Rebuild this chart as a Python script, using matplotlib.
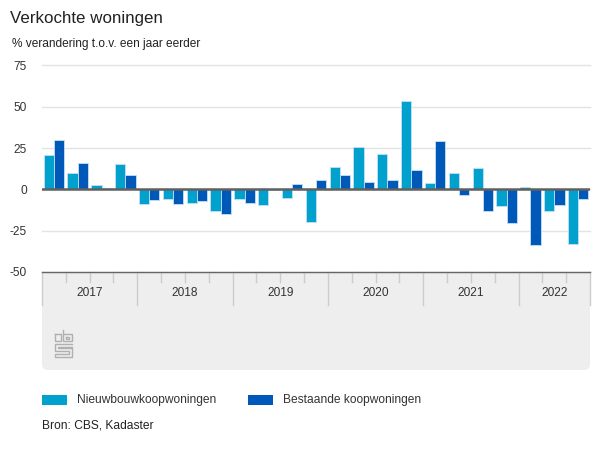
import matplotlib
matplotlib.use("Agg")
import matplotlib.pyplot as plt
import numpy as np
from matplotlib.patches import FancyBboxPatch, Rectangle

plt.rcParams['font.family'] = ['Liberation Sans', 'DejaVu Sans']
plt.rcParams['axes.unicode_minus'] = False

years = ['2017', '2018', '2019', '2020', '2021', '2022']
quarters_per_year = [4, 4, 4, 4, 4, 3]
nieuwbouw = [21, 9.7, 2.4, 15.3, -9, -6, -8.5, -13.3, -6, -9.7, -5, -20,
             13.5, 25.6, 21.4, 53.4, 3.8, 9.9, 12.9, -10.3, 1.4, -13.3, -33]
bestaand = [30, 16, 0.7, 8.7, -6.7, -9, -7.3, -14.7, -8.5, -0.6, 3.2, 5.6,
            8.7, 4.4, 5.6, 11.7, 29.2, -3.6, -13.3, -20.6, -33.9, -9.7, -6]
yticks = [-50, -25, 0, 25, 50, 75]

W, H = 600, 450
fig = plt.figure(figsize=(6, 4.5), dpi=100)
bg = fig.add_axes([0, 0, 1, 1], zorder=0)
bg.set_xlim(0, W); bg.set_ylim(H, 0); bg.axis('off')

L, R, T, B = 42, 590, 65.5, 272
ax = fig.add_axes([L/W, 1-B/H, (R-L)/W, (B-T)/H], zorder=1)
ax.patch.set_alpha(0)
n = len(nieuwbouw)
x = np.arange(n)
bw = 0.43
ec = '#c4e0f5'
ax.bar(x-bw/2, nieuwbouw, bw, color='#00a1cd', edgecolor=ec, linewidth=0.6, zorder=3)
ax.bar(x+bw/2, bestaand, bw, color='#0058b8', edgecolor=ec, linewidth=0.6, zorder=3)
ax.set_xlim(-0.5, n-0.5)
ax.set_ylim(-50, 75)
ax.set_yticks(yticks)
ax.set_xticks([])
ax.tick_params(axis='y', length=0, pad=10.8, labelsize=8.6, labelcolor='#333333')
ax.grid(axis='y', color='#e3e3e3', linewidth=1, zorder=1)
for g in ax.get_ygridlines():
    g.set_clip_on(False)
for s in ax.spines.values():
    s.set_visible(False)
ax.axhline(0, color='#606060', linewidth=1.8, zorder=4)
ax.axhline(-50, color='#666666', linewidth=1, zorder=5, clip_on=False)

# grey panel under the plot
panel = FancyBboxPatch((L+6, B+6), R-L-12, 370-B-12, boxstyle='round,pad=6',
                       facecolor='#eeeeee', edgecolor='none', zorder=1)
bg.add_patch(panel)
bg.add_patch(Rectangle((L, B), R-L, 30, facecolor='#eeeeee', edgecolor='none', zorder=1))

# axis divisions, from category positions
step = (R-L)/n
pos = 0
bg.plot([L, L], [B, B+33], color='#cccccc', lw=1, zorder=2)
for y, q in zip(years, quarters_per_year):
    for i in range(1, q):
        px = L + (pos+i)*step
        bg.plot([px, px], [B, B+10], color='#cccccc', lw=1, zorder=2)
    xc = L + (pos+q/2)*step
    bg.text(xc, 292.5, y, ha='center', va='center', fontsize=8.6, color='#333333', zorder=3)
    pos += q
    px = L + pos*step
    bg.plot([px, px], [B, B+33], color='#cccccc', lw=1, zorder=2)

# logo
lc = '#b0b0b0'
logo = [
    [(54.5, 334), (54.5, 341), (60.5, 341), (60.5, 334), (54.5, 334)],
    [(62.5, 329.5), (62.5, 341), (71.5, 341), (71.5, 334), (62.5, 334)],
    [(65.5, 336.5), (68.5, 336.5), (68.5, 339), (65.5, 339), (65.5, 336.5)],
    [(71.5, 344), (54.5, 344), (54.5, 351), (68.5, 351), (68.5, 354), (54.5, 354), (54.5, 357), (71.5, 357),
     (71.5, 348), (58, 348), (58, 346.5), (71.5, 346.5)],
]
for seg in logo:
    xs, ys = zip(*seg)
    bg.plot(xs, ys, color=lc, lw=1, zorder=3, solid_joinstyle='miter')

# titles
bg.text(10, 18, 'Verkochte woningen', fontsize=12.2, color='#222222', va='center', ha='left')
bg.text(12, 44, '% verandering t.o.v. een jaar eerder', fontsize=8.55, color='#222222', va='center', ha='left')

# legend
bg.add_patch(Rectangle((42, 395), 25, 10, facecolor='#00a1cd', edgecolor='none'))
bg.text(77, 400.5, 'Nieuwbouwkoopwoningen', fontsize=8.65, color='#333333', va='center', ha='left')
bg.add_patch(Rectangle((248, 395), 25, 10, facecolor='#0058b8', edgecolor='none'))
bg.text(283, 400.5, 'Bestaande koopwoningen', fontsize=8.65, color='#333333', va='center', ha='left')
bg.text(42, 426, 'Bron: CBS, Kadaster', fontsize=8.65, color='#222222', va='center', ha='left')

fig.savefig('out.png', dpi=100, facecolor='white')
